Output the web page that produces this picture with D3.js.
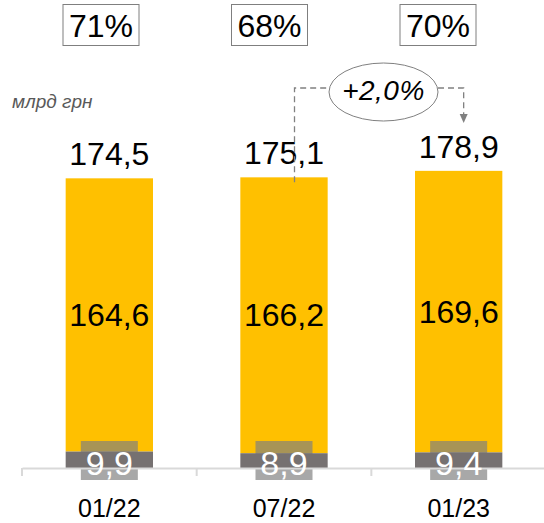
<!DOCTYPE html>
<html><head><meta charset="utf-8">
<script src="https://cdn.jsdelivr.net/npm/d3@7"></script>
<style>
html,body{margin:0;padding:0;background:#fff;}
svg{display:block;font-family:"Liberation Sans",Arial,sans-serif;}
</style></head>
<body><svg id="c" width="544" height="523"></svg>
<script>
const categories = ["01/22", "07/22", "01/23"];
const mainValues = [164.6, 166.2, 169.6];
const smallValues = [9.9, 8.9, 9.4];
const totals = [174.5, 175.1, 178.9];
const shares = ["71%", "68%", "70%"];
const unitLabel = "млрд грн";
const changeLabel = "+2,0%";
const fmt = v => v.toFixed(1).replace(".", ",");

const svg = d3.select("#c");
const x = d3.scaleBand().domain(categories).range([22, 546]).padding(0);
const y = d3.scaleLinear().domain([0, 180]).range([468, 169.2]);
const bw = x.bandwidth() * 0.5;
const cx = c => x(c) + x.bandwidth() / 2;
const pctX = d3.scalePoint().domain(categories).range([101, 438]);

// bars
const g = svg.append("g");
categories.forEach((c, i) => {
  const s = smallValues[i], m = mainValues[i];
  g.append("rect").attr("x", cx(c) - bw / 2).attr("width", bw)
    .attr("y", y(s + m)).attr("height", y(s) - y(s + m)).attr("fill", "#FFC000");
});
// label boxes (semi-transparent)
categories.forEach((c, i) => {
  g.append("rect").attr("x", cx(c) - 28.5).attr("width", 57)
    .attr("y", y(0) - 27).attr("height", 39).attr("fill", "#7f7f7f").attr("opacity", 0.68);
});
categories.forEach((c, i) => {
  const s = smallValues[i];
  g.append("rect").attr("x", cx(c) - bw / 2).attr("width", bw)
    .attr("y", y(s)).attr("height", y(0) - y(s)).attr("fill", "#767171");
});

// axis
const axis = svg.append("g").attr("transform", `translate(0,${y(0)})`)
  .call(d3.axisBottom(x).tickValues([]).tickSizeOuter(0));
axis.select(".domain").attr("stroke", "#d9d9d9").attr("stroke-width", 2);
// separators between categories
const seps = [x.range()[0]].concat(categories.slice(1).map(c => x(c)));
svg.append("g").selectAll("line").data(seps).join("line")
  .attr("x1", d => d).attr("x2", d => d).attr("y1", y(0)).attr("y2", y(0) + 8)
  .attr("stroke", "#d9d9d9").attr("stroke-width", 2);

// category labels
svg.append("g").selectAll("text").data(categories).join("text")
  .attr("x", d => cx(d)).attr("y", 517).attr("text-anchor", "middle")
  .attr("font-size", 25).attr("fill", "#000").text(d => d);

// small value labels
svg.append("g").selectAll("text").data(smallValues).join("text")
  .attr("x", (d, i) => cx(categories[i])).attr("y", y(0) + 7).attr("text-anchor", "middle")
  .attr("font-size", 34).attr("fill", "#fff").text(d => fmt(d));

// main value labels
svg.append("g").selectAll("text").data(mainValues).join("text")
  .attr("x", (d, i) => cx(categories[i]))
  .attr("y", (d, i) => (y(smallValues[i]) + y(smallValues[i] + d)) / 2 + 11)
  .attr("text-anchor", "middle").attr("font-size", 32).attr("fill", "#000").text(d => fmt(d));

// totals
svg.append("g").selectAll("text").data(totals).join("text")
  .attr("x", (d, i) => cx(categories[i])).attr("y", d => y(d) - 13)
  .attr("text-anchor", "middle").attr("font-size", 32).attr("fill", "#000").text(d => fmt(d));

// share boxes
const sb = svg.append("g");
categories.forEach((c, i) => {
  sb.append("rect").attr("x", pctX(c) - 38).attr("y", 4.5).attr("width", 76).attr("height", 41)
    .attr("fill", "#fff").attr("stroke", "#7f7f7f").attr("stroke-width", 1);
  sb.append("text").attr("x", pctX(c)).attr("y", 37).attr("text-anchor", "middle")
    .attr("font-size", 32).attr("fill", "#000").text(shares[i]);
});

// unit label
svg.append("text").attr("x", 12).attr("y", 108).attr("font-size", 19)
  .attr("font-style", "italic").attr("fill", "#595959").text(unitLabel);

// change annotation
const ex = 383.5, ey = 92, rx = 54.5, ry = 29;
const lx = cx(categories[1]) + 10.5, rxLine = cx(categories[2]) + 5, hy = 88;
const dash = svg.append("g").attr("stroke", "#808080").attr("stroke-width", 1.3)
  .attr("stroke-dasharray", "6,4").attr("fill", "none");
dash.append("path").attr("d", `M${lx},${y(totals[1]) + 5} V${hy} H${ex - rx}`);
dash.append("path").attr("d", `M${ex + rx},${hy} H${rxLine} V${116}`);
svg.append("path").attr("d", `M${rxLine - 4},${114} L${rxLine + 4},${114} L${rxLine},${123} Z`)
  .attr("fill", "#808080");
svg.append("ellipse").attr("cx", ex).attr("cy", ey).attr("rx", rx).attr("ry", ry)
  .attr("fill", "#fff").attr("stroke", "#808080").attr("stroke-width", 1);
svg.append("text").attr("x", ex).attr("y", 100).attr("text-anchor", "middle")
  .attr("font-size", 28).attr("font-style", "italic").attr("letter-spacing", 0.5)
  .attr("fill", "#000").text(changeLabel);
</script>
</body></html>
